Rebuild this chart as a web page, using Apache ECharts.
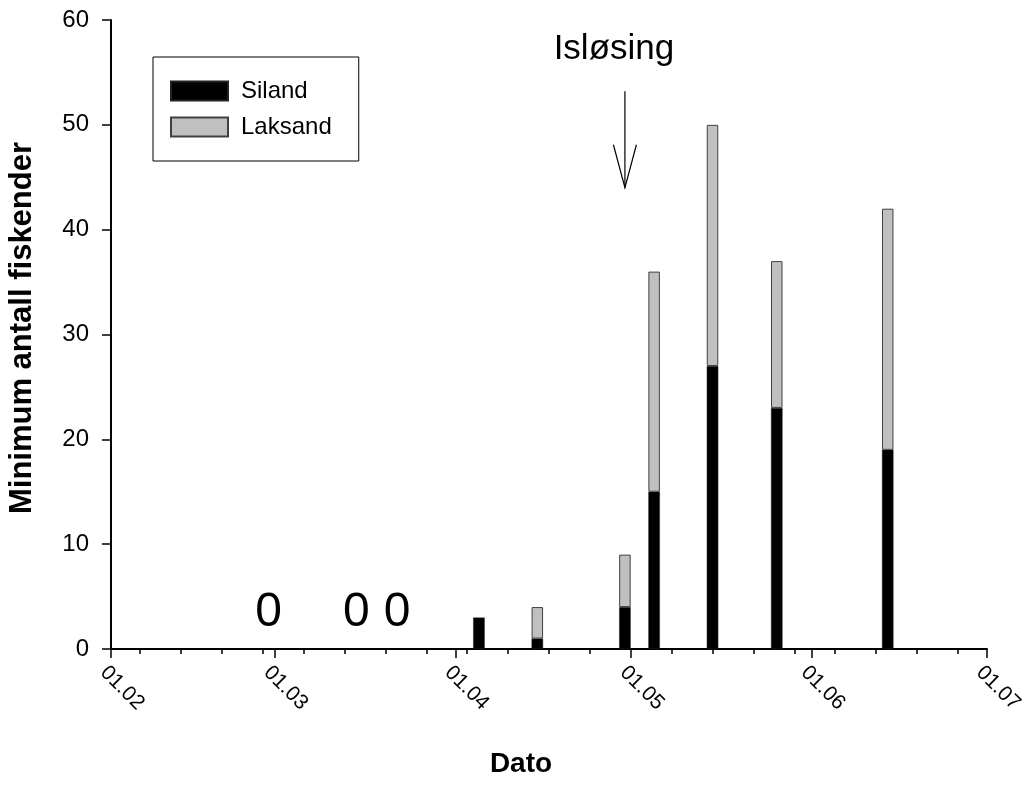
<!DOCTYPE html>
<html>
<head>
<meta charset="utf-8">
<script src="https://cdn.jsdelivr.net/npm/echarts@6/dist/echarts.min.js"></script>
<style>
html,body{margin:0;padding:0;background:#fff;}
#chart{width:1026px;height:805px;}
</style>
</head>
<body>
<div id="chart"></div>
<script>
// ---- data ----
const sampleDates = ['28.02','15.03','22.03','05.04','15.04','30.04','05.05','15.05','26.05','14.06'];
const siland  = [0, 0, 0, 3, 1, 4, 15, 27, 23, 19];
const laksand = [0, 0, 0, 0, 3, 5, 21, 23, 14, 23];
const xTickLabels = ['01.02','01.03','01.04','01.05','01.06','01.07'];
const yMin = 0, yMax = 60, yStep = 10;
const seriesNames = ['Siland', 'Laksand'];
const arrowLabel = 'Isløsing';
const arrowDate = '30.04';
const arrowFrom = 53.2, arrowTo = 44.0, arrowWing = 48.1, arrowTextAt = 57.2;
const yTitle = 'Minimum antall fiskender';
const xTitle = 'Dato';

// ---- daily category scale 01.02 .. 01.07 ----
const monthLengths = [[2,28],[3,31],[4,30],[5,31],[6,30]];
const days = [];
monthLengths.forEach(([m, n]) => {
  for (let d = 1; d <= n; d++) days.push(String(d).padStart(2,'0') + '.' + String(m).padStart(2,'0'));
});
days.push('01.07');
const idx = s => days.indexOf(s);
const firstWeekTick = idx('06.02');

const silandData = sampleDates.map((d, i) => [idx(d), siland[i] === 0 ? '-' : siland[i]]);
const laksandData = sampleDates.map((d, i) => [idx(d), laksand[i] === 0 ? '-' : laksand[i]]);
const zeroData = sampleDates.map((d, i) => [idx(d), siland[i] + laksand[i]]).filter(p => p[1] === 0);

const FONT = '"Liberation Sans", Arial, sans-serif';
const chart = echarts.init(document.getElementById('chart'), null, {renderer: 'canvas'});

chart.setOption({
  animation: false,
  backgroundColor: '#fff',
  textStyle: {fontFamily: FONT, color: '#000'},
  grid: {left: 111, right: 39, top: 20, bottom: 156, containLabel: false, outerBoundsMode: 'none'},
  legend: {
    data: seriesNames,
    orient: 'vertical',
    left: 153, top: 57,
    borderColor: '#000', borderWidth: 1,
    padding: [22, 27, 22, 17],
    itemWidth: 57, itemHeight: 19, itemGap: 12,
    icon: 'rect',
    textStyle: {fontSize: 24, fontFamily: FONT, color: '#000', lineHeight: 19, padding: [0,0,0,8]}
  },
  xAxis: [{
    type: 'category',
    data: days,
    boundaryGap: false,
    axisLine: {lineStyle: {color: '#000', width: 2}},
    axisTick: {interval: (i, v) => xTickLabels.includes(v), length: 9, lineStyle: {color: '#000', width: 1.5}},
    axisLabel: {interval: (i, v) => xTickLabels.includes(v), rotate: -45, fontSize: 21, margin: 13, verticalAlign: 'top', color: '#000', fontFamily: FONT},
    splitLine: {show: false}
  }, {
    type: 'category',
    data: days,
    position: 'bottom',
    boundaryGap: false,
    axisLine: {show: false},
    axisTick: {interval: (i) => i >= firstWeekTick && (i - firstWeekTick) % 7 === 0, length: 5, lineStyle: {color: '#000', width: 1.5}},
    axisLabel: {show: false},
    splitLine: {show: false}
  }],
  yAxis: {
    type: 'value',
    min: yMin, max: yMax, interval: yStep,
    axisLine: {show: true, lineStyle: {color: '#000', width: 2}},
    axisTick: {show: true, length: 9, lineStyle: {color: '#000', width: 1.5}},
    axisLabel: {fontSize: 24, margin: 22, color: '#000', fontFamily: FONT},
    splitLine: {show: false}
  },
  graphic: [{
    type: 'text',
    x: 22, y: 328, rotation: Math.PI / 2,
    style: {text: yTitle, fontSize: 31, fontWeight: 'bold', fontFamily: FONT, fill: '#000', align: 'center', verticalAlign: 'middle'}
  }, {
    type: 'text',
    x: 521, y: 764,
    style: {text: xTitle, fontSize: 28, fontWeight: 'bold', fontFamily: FONT, fill: '#000', align: 'center', verticalAlign: 'middle'}
  }],
  series: [{
    name: seriesNames[0], type: 'bar', stack: 'total', barWidth: 11.5,
    data: silandData,
    itemStyle: {color: '#000', borderColor: '#222', borderWidth: 0.5}
  }, {
    name: seriesNames[1], type: 'bar', stack: 'total', barWidth: 11.5,
    data: laksandData,
    itemStyle: {color: '#c0c0c0', borderColor: '#404040', borderWidth: 1}
  }, {
    type: 'custom',
    silent: true,
    data: zeroData,
    renderItem: (params, api) => {
      const p = api.coord([api.value(0), api.value(1)]);
      return {type: 'text', x: p[0], y: p[1] - 36,
        style: {text: '0', fontSize: 48, fontFamily: FONT, fill: '#000', align: 'center', verticalAlign: 'middle'}};
    }
  }, {
    type: 'custom',
    silent: true,
    data: [[idx(arrowDate), arrowFrom, arrowTo, arrowWing, arrowTextAt]],
    renderItem: (params, api) => {
      const x = api.value(0);
      const top = api.coord([x, api.value(1)]);
      const tip = api.coord([x, api.value(2)]);
      const wing = api.coord([x, api.value(3)]);
      const txt = api.coord([x, api.value(4)]);
      const ls = {stroke: '#000', lineWidth: 1.2, fill: null};
      return {type: 'group', children: [
        {type: 'line', shape: {x1: top[0], y1: top[1], x2: tip[0], y2: tip[1]}, style: ls},
        {type: 'polyline', shape: {points: [[wing[0] - 11.5, wing[1]], [tip[0], tip[1]], [wing[0] + 11.5, wing[1]]]}, style: ls},
        {type: 'text', x: txt[0] - 11, y: txt[1],
          style: {text: arrowLabel, fontSize: 35, fontFamily: FONT, fill: '#000', align: 'center', verticalAlign: 'middle'}}
      ]};
    }
  }]
});
</script>
</body>
</html>
